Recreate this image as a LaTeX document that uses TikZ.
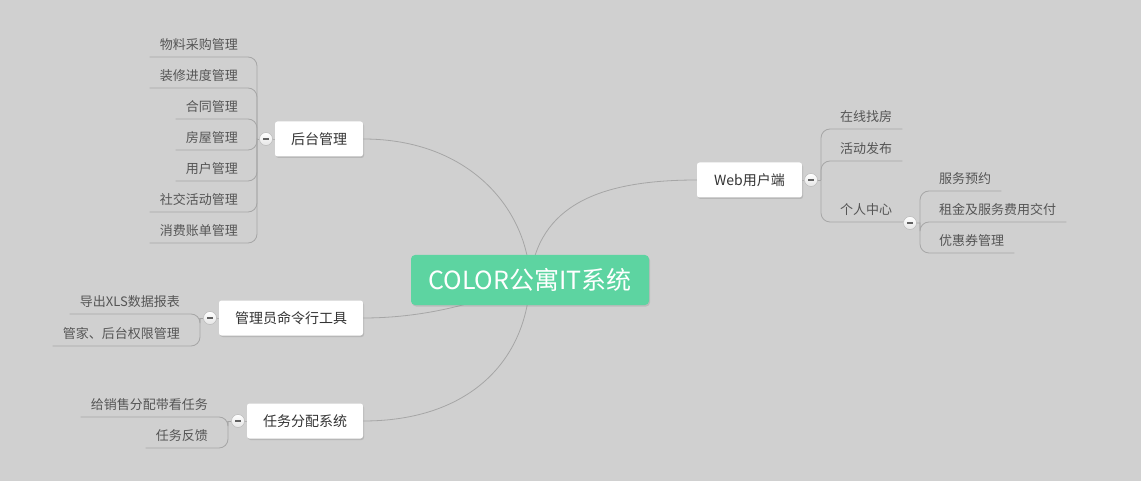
\documentclass[tikz,border=0pt]{standalone}
\usepackage{fontspec}
\setmainfont{Noto Sans CJK SC}
\usetikzlibrary{shadows,calc}
\definecolor{bgc}{HTML}{D0D0D0}
\definecolor{topic}{HTML}{5DD4A1}
\definecolor{linec}{HTML}{A6A6A6}
\definecolor{leaftxt}{HTML}{555555}
\definecolor{boxtxt}{HTML}{333333}
\pgfdeclarelayer{bglayer}
\pgfdeclarelayer{lines}
\pgfsetlayers{bglayer,lines,main}
\tikzset{
  central/.style={rectangle, rounded corners=4pt, fill=topic, text=white,
    minimum width=238pt, minimum height=50pt, inner sep=0pt,
    font=\fontsize{25}{25}\selectfont,
    drop shadow={opacity=0.25, shadow xshift=1pt, shadow yshift=-1.5pt}},
  mainbox/.style={rectangle, rounded corners=2.5pt, fill=white, text=boxtxt,
    minimum height=35pt, inner sep=0pt, font=\fontsize{14}{14}\selectfont,
    drop shadow={opacity=0.3, shadow xshift=1pt, shadow yshift=-1.5pt}},
  leaf/.style={inner xsep=10pt, inner ysep=0pt, text height=12pt, text depth=7pt,
    text=leaftxt, font=\fontsize{13}{13}\selectfont},
  tocollapse/.style={circle, minimum size=13pt, inner sep=0pt,
    draw=black!28, line width=0.5pt, top color=white, bottom color=black!10,
    path picture={\fill[black!62] ([xshift=-3pt,yshift=-1pt]path picture bounding box.center) rectangle ([xshift=3pt,yshift=1pt]path picture bounding box.center);}},
  topicline/.style={draw=linec, line width=0.8pt},
  leafline/.style={draw=linec, line width=0.8pt, rounded corners=9pt},
}
\begin{document}
\begin{tikzpicture}[x=1pt,y=-1pt]
\begin{pgfonlayer}{bglayer}
\fill[bgc] (0,0) rectangle (1141,481);
\end{pgfonlayer}
\useasboundingbox (0,0) rectangle (1141,481);

% central topic
\node[central] (root) at (530,280) {COLOR公寓IT系统};

% main topics
\node[mainbox, minimum width=88pt] (houtai) at (319,139) {后台管理};
\node[mainbox, minimum width=144pt] (guanli) at (291,318) {管理员命令行工具};
\node[mainbox, minimum width=116pt] (renwu) at (305,421) {任务分配系统};
\node[mainbox, minimum width=105pt] (web) at (749.5,180) {Web用户端};

% collapse buttons
\node[tocollapse] (c1) at (266,139) {};
\node[tocollapse] (c2) at (210,318) {};
\node[tocollapse] (c3) at (238,421) {};
\node[tocollapse] (c4) at (811,180) {};
\node[tocollapse] (c5) at (910,223) {};

% bracket points
\coordinate (b1) at (257,139);
\coordinate (b2) at (200,318);
\coordinate (b3) at (228,421);
\coordinate (b4) at (821,180);
\coordinate (b5) at (920,223);

% leaves of 后台管理
\node[leaf, anchor=south east] (h1) at (248,57) {物料采购管理};
\node[leaf, anchor=south east] (h2) at (248,88) {装修进度管理};
\node[leaf, anchor=south east] (h3) at (248,119) {合同管理};
\node[leaf, anchor=south east] (h4) at (248,150) {房屋管理};
\node[leaf, anchor=south east] (h5) at (248,181) {用户管理};
\node[leaf, anchor=south east] (h6) at (248,212) {社交活动管理};
\node[leaf, anchor=south east] (h7) at (248,243) {消费账单管理};

% leaves of 管理员命令行工具
\node[leaf, anchor=south east] (g1) at (190,314) {导出XLS数据报表};
\node[leaf, anchor=south east] (g2) at (190,346) {管家、后台权限管理};

% leaves of 任务分配系统
\node[leaf, anchor=south east] (r1) at (218,417) {给销售分配带看任务};
\node[leaf, anchor=south east] (r2) at (218,448) {任务反馈};

% leaves of Web用户端
\node[leaf, anchor=south west] (w1) at (830,129) {在线找房};
\node[leaf, anchor=south west] (w2) at (830,161) {活动发布};
\node[leaf, anchor=south west] (w3) at (830,222) {个人中心};

% leaves of 个人中心
\node[leaf, anchor=south west] (p1) at (929,191) {服务预约};
\node[leaf, anchor=south west] (p2) at (929,222) {租金及服务费用交付};
\node[leaf, anchor=south west] (p3) at (929,253) {优惠券管理};

\begin{pgfonlayer}{lines}
% topic connectors
\draw[topicline] (root.center) .. controls (528,210) and (470,139) .. (houtai.east);
\draw[topicline] (root.center) .. controls (490,300) and (430,318) .. (guanli.east);
\draw[topicline] (root.center) .. controls (527,360) and (470,421) .. (renwu.east);
\draw[topicline] (root.center) .. controls (538,205) and (600,180) .. (web.west);
% button stubs
\draw[topicline] (houtai.west) -- (c1.center) -- (b1);
\draw[topicline] (guanli.west) -- (c2.center) -- (b2);
\draw[topicline] (renwu.west) -- (c3.center) -- (b3);
\draw[topicline] (web.east) -- (c4.center) -- (b4);
\draw[topicline] (w3.south east) -- (c5.center) -- (b5);
% leaf connectors
\foreach \l in {h1,h2,h3,h4,h5,h6,h7}
  \draw[leafline] (b1) -- (b1 |- \l.south east) -- (\l.south west);
\foreach \l in {g1,g2}
  \draw[leafline] (b2) -- (b2 |- \l.south east) -- (\l.south west);
\foreach \l in {r1,r2}
  \draw[leafline] (b3) -- (b3 |- \l.south east) -- (\l.south west);
\foreach \l in {w1,w2,w3}
  \draw[leafline] (b4) -- (b4 |- \l.south west) -- (\l.south east);
\foreach \l in {p1,p2,p3}
  \draw[leafline] (b5) -- (b5 |- \l.south west) -- (\l.south east);
\end{pgfonlayer}
\end{tikzpicture}
\end{document}
